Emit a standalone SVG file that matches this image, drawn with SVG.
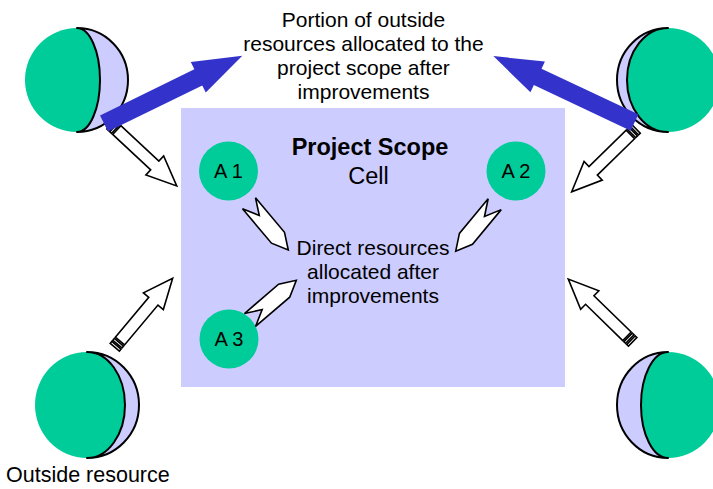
<svg xmlns="http://www.w3.org/2000/svg" xmlns:xlink="http://www.w3.org/1999/xlink" width="713" height="489" viewBox="0 0 713 489">
<style>
  text { font-family: "Liberation Sans", Arial, sans-serif; fill: #000; }
  .green { fill: #00CC99; stroke: none; }
  .cres { fill: #CCCCFF; stroke: #000; stroke-width: 2; stroke-linejoin: round; }
  .blue { fill: #3333CC; stroke: none; }
  .white { fill: #FFFFFF; stroke: #000; stroke-width: 1.6; stroke-linejoin: miter; }
  .lbl { font-size: 21px; text-anchor: middle; }
  .alab { font-size: 20px; text-anchor: middle; }
</style>
<defs>
  <g id="stripedArrow">
    <rect class="white" x="0" y="-6" width="2.5" height="12"/>
    <rect class="white" x="4" y="-6" width="2.5" height="12"/>
    <path class="white" d="M8,-6 L60,-6 L60,-13 L90,0 L60,13 L60,6 L8,6 Z"/>
  </g>
  <path id="chevron" class="white" d="M0,-8.5 L45,-8.5 L61,0 L45,8.5 L0,8.5 L16,0 Z"/>
</defs>

<rect id="project-scope" x="181" y="108" width="384" height="279" fill="#CCCCFF"/>

<g id="moon-top-left">
  <path class="green" d="M77,28 A52,52 0 0 0 77,132 A23,52 0 0 0 77,28 Z"/>
  <path class="cres" d="M77,28 A51,52 0 0 1 77,132 A23,52 0 0 0 77,28 Z"/>
</g>
<g id="moon-top-right">
  <path class="green" d="M668,28 A52,52 0 0 1 668,132 A41,52 0 0 1 668,28 Z"/>
  <path class="cres" d="M668,28 A51,52 0 0 0 668,132 A41,52 0 0 1 668,28 Z"/>
</g>
<g id="moon-bottom-left">
  <path class="green" d="M87,352 A52,53 0 0 0 87,458 A38,53 0 0 0 87,352 Z"/>
  <path class="cres" d="M87,352 A52,53 0 0 1 87,458 A38,53 0 0 0 87,352 Z"/>
</g>
<g id="moon-bottom-right">
  <path class="green" d="M668,352 A52,53 0 0 1 668,458 A27,53 0 0 1 668,352 Z"/>
  <path class="cres" d="M668,352 A51,53 0 0 0 668,458 A27,53 0 0 1 668,352 Z"/>
</g>

<g id="A1">
  <circle class="green" cx="228.5" cy="171" r="29.5"/>
  <text class="alab" x="228.5" y="178">A 1</text>
</g>
<g id="A2">
  <circle class="green" cx="516" cy="171" r="29.5"/>
  <text class="alab" x="516" y="178">A 2</text>
</g>
<g id="A3">
  <circle class="green" cx="229" cy="339" r="29.5"/>
  <text class="alab" x="229" y="346">A 3</text>
</g>

<g id="connectors">
  <use xlink:href="#stripedArrow" transform="translate(110.9,124.6) rotate(43)"/>
  <use xlink:href="#stripedArrow" transform="translate(636.1,128.9) rotate(135.7)"/>
  <use xlink:href="#stripedArrow" transform="translate(114.8,347.2) rotate(-50)"/>
  <use xlink:href="#stripedArrow" transform="translate(632.7,341.9) rotate(-135.7)"/>
  <path class="blue" transform="translate(104,123.5) rotate(-26.1)" d="M0,-9 L105,-9 L105,-17 L154,0 L105,17 L105,9 L0,9 Z"/>
  <path class="blue" transform="translate(634.5,122.5) rotate(-154.8)" d="M0,-9 L107,-9 L107,-17 L156,0 L107,17 L107,9 L0,9 Z"/>
  <use xlink:href="#chevron" transform="translate(249,203.3) rotate(49.9)"/>
  <use xlink:href="#chevron" transform="translate(494.7,204.2) rotate(129.7)"/>
  <use xlink:href="#chevron" transform="translate(250,320) rotate(-40.6)"/>
</g>

<g id="labels">
  <text class="lbl" x="363.5" y="27">Portion of outside</text>
  <text class="lbl" x="363.5" y="51">resources allocated to the</text>
  <text class="lbl" x="363.5" y="75">project scope after</text>
  <text class="lbl" x="363.5" y="99">improvements</text>
  <text x="370" y="155" font-size="23.5" font-weight="bold" text-anchor="middle">Project Scope</text>
  <text x="368.5" y="184" font-size="23.5" text-anchor="middle">Cell</text>
  <text class="lbl" x="373" y="255">Direct resources</text>
  <text class="lbl" x="373" y="279">allocated after</text>
  <text class="lbl" x="373" y="303">improvements</text>
  <text x="6" y="482" font-size="21.5">Outside resource</text>
</g>
</svg>
